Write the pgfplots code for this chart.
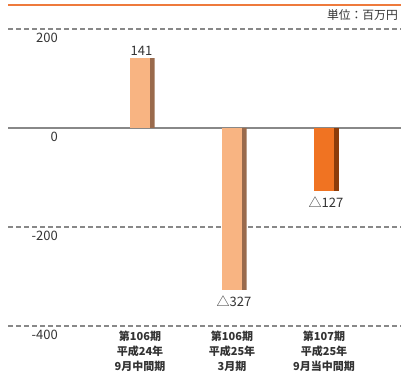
\documentclass[border=0pt]{standalone}
\usepackage{fontspec}
\setmainfont{Noto Sans CJK JP}
\usepackage{pgfplots}
\pgfplotsset{compat=1.18}
\definecolor{barlight}{HTML}{F8B482}
\definecolor{shadowlight}{HTML}{9A6A4C}
\definecolor{barorange}{HTML}{F07322}
\definecolor{shadoworange}{HTML}{8C3C0A}
\definecolor{titleorange}{HTML}{EE7A3C}
\definecolor{textgray}{HTML}{333333}
\definecolor{gridgray}{HTML}{888888}
\begin{document}
\begin{tikzpicture}
\path[use as bounding box] (0pt,0pt) rectangle (401pt,374pt);
\draw[titleorange, line width=1.5pt] (8pt,369pt) -- (401pt,369pt);
\node[anchor=east, inner sep=0pt, text=textgray, font=\fontsize{11.8pt}{13pt}\selectfont] at (398pt,359pt) {単位：百万円};
\begin{axis}[
  at={(8pt,48pt)}, anchor=south west,
  scale only axis, width=393pt, height=297pt,
  xmin=-1.4348, xmax=2.837, ymin=-400, ymax=200,
  axis line style={draw=none},
  tick style={draw=none},
  clip=false,
  ytick={-400,-200,200},
  yticklabels={-400,-200,200},
  extra y ticks={0},
  extra y tick labels={0},
  extra y tick style={grid style={solid, draw=gridgray, line width=1.3pt}},
  ymajorgrids,
  grid style={dashed, dash pattern=on 5pt off 3pt, draw=gridgray, line width=1.2pt},
  yticklabel style={anchor=north east, inner sep=0pt, xshift=50pt, yshift=-4pt, text=textgray, font=\fontsize{13pt}{15pt}\selectfont},
  xtick={0,1,2},
  xticklabels={第106期\\平成24年\\9月中間期, 第106期\\平成25年\\3月期, 第107期\\平成25年\\9月当中間期},
  xticklabel style={anchor=north, inner sep=0pt, yshift=-5pt, align=center, text=textgray, font=\bfseries\fontsize{11pt}{15pt}\selectfont},
]
\addplot[ybar, bar width=4.5pt, bar shift=12.25pt, fill=shadowlight, draw=none] coordinates {(0,141) (1,-327)};
\addplot[ybar, bar width=20pt, bar shift=0pt, fill=barlight, draw=none,
  point meta=explicit symbolic, nodes near coords,
  nodes near coords style={anchor=south, inner sep=0pt, yshift=3pt, xshift=1.5pt, text=textgray, font=\fontsize{13pt}{15pt}\selectfont}]
  coordinates {(0,141) [141]};
\addplot[ybar, bar width=20pt, bar shift=0pt, fill=barlight, draw=none,
  point meta=explicit symbolic, nodes near coords,
  nodes near coords style={anchor=north, inner sep=0pt, yshift=-6pt, xshift=2pt, text=textgray, font=\fontsize{13pt}{15pt}\selectfont}]
  coordinates {(1,-327) [△327]};
\addplot[ybar, bar width=4.5pt, bar shift=12.25pt, fill=shadoworange, draw=none] coordinates {(2,-127)};
\addplot[ybar, bar width=20pt, bar shift=0pt, fill=barorange, draw=none,
  point meta=explicit symbolic, nodes near coords,
  nodes near coords style={anchor=north, inner sep=0pt, yshift=-6pt, xshift=2pt, text=textgray, font=\fontsize{13pt}{15pt}\selectfont}]
  coordinates {(2,-127) [△127]};
\end{axis}
\end{tikzpicture}
\end{document}
